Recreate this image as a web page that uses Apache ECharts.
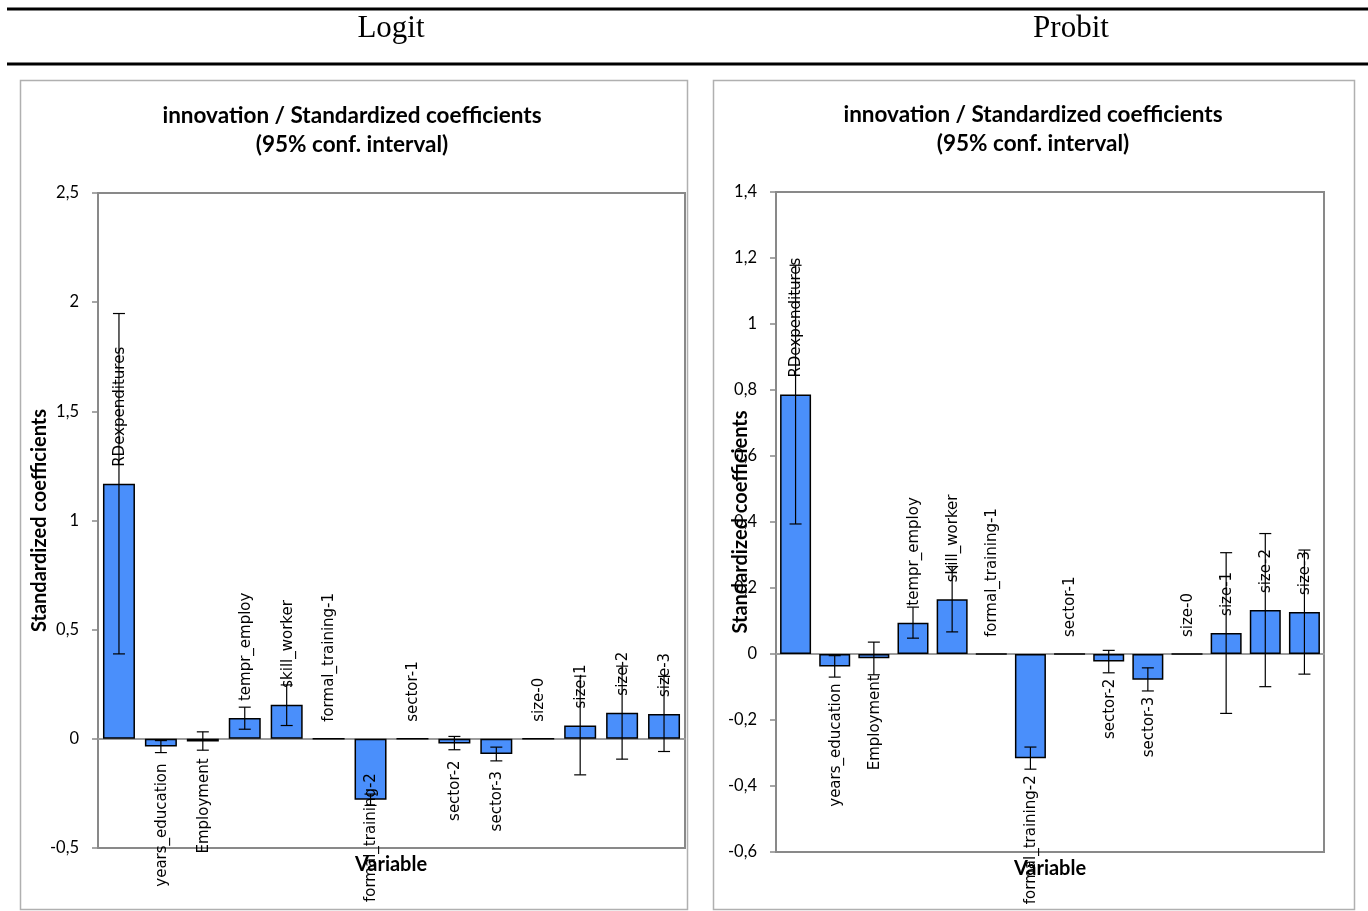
<!DOCTYPE html>
<html>
<head>
<meta charset="utf-8">
<script src="https://cdn.jsdelivr.net/npm/echarts@6/dist/echarts.min.js"></script>
<style>
html,body{margin:0;padding:0;background:#fff;}
#c{width:1368px;height:911px;}
</style>
</head>
<body>
<div id="c"></div>
<script>
// ---- data ----
const categories = ['RDexpenditures','years_education','Employment','tempr_employ','skill_worker','formal_training-1','formal_training-2','sector-1','sector-2','sector-3','size-0','size-1','size-2','size-3'];

const logitCoef = [1.168, -0.035, -0.012, 0.095, 0.156, 0, -0.279, 0, -0.021, -0.069, 0, 0.061, 0.120, 0.114];
const logitLow  = [0.389, -0.063, -0.052, 0.044, 0.061, null, -0.305, null, -0.050, -0.101, null, -0.165, -0.093, -0.058];
const logitHigh = [1.948, -0.008, 0.032, 0.145, 0.247, null, -0.253, null, 0.011, -0.038, null, 0.287, 0.333, 0.286];

const probitCoef = [0.786, -0.038, -0.013, 0.095, 0.166, 0, -0.316, 0, -0.023, -0.078, 0, 0.064, 0.133, 0.127];
const probitLow  = [0.394, -0.070, -0.063, 0.048, 0.067, null, -0.349, null, -0.057, -0.112, null, -0.180, -0.099, -0.061];
const probitHigh = [1.178, -0.005, 0.036, 0.142, 0.265, null, -0.282, null, 0.011, -0.042, null, 0.307, 0.365, 0.315];

const logitAxis = [-0.5, 2.5, 0.5];   // min, max, interval
const probitAxis = [-0.6, 1.4, 0.2];

const panelTitles = ['Logit', 'Probit'];
const chartTitle = 'innovation / Standardized coefficients\n(95% conf. interval)';
const yName = 'Standardized coefficients';
const xName = 'Variable';

// ---- helpers ----
const LABEL_FONT = '15px "DejaVu Sans"';
const mctx = document.createElement('canvas').getContext('2d');
function measure(t, font) { mctx.font = font; return mctx.measureText(t).width; }
function fmt(v) { return String(+v.toFixed(6)).replace('.', ','); }

function makeRender(labelFloor) {
  return function (params, api) {
    const i = api.value(0), v = api.value(1), lo = api.value(2), hi = api.value(3);
    const name = categories[i];
    const pv = api.coord([i, v]);
    const children = [];
    let ty, align;
    if (v >= 0) { ty = pv[1] - 17; align = 'left'; }
    else {
      ty = pv[1] + 17; align = 'right';
      const w = measure(name, LABEL_FONT);
      if (ty + w > labelFloor) ty = labelFloor - w;
    }
    children.push({
      type: 'text', x: pv[0] + 1, y: ty, rotation: Math.PI / 2,
      style: { text: name, font: LABEL_FONT, fill: '#000', align: align, verticalAlign: 'middle' }
    });
    if (isFinite(lo) && isFinite(hi)) {
      const pl = api.coord([i, lo]), ph = api.coord([i, hi]);
      const ls = { stroke: '#000', lineWidth: 1.2 };
      children.push({ type: 'line', shape: { x1: pl[0], y1: pl[1], x2: ph[0], y2: ph[1] }, style: ls });
      children.push({ type: 'line', shape: { x1: pl[0] - 6, y1: pl[1], x2: pl[0] + 6, y2: pl[1] }, style: ls });
      children.push({ type: 'line', shape: { x1: ph[0] - 6, y1: ph[1], x2: ph[0] + 6, y2: ph[1] }, style: ls });
    }
    return { type: 'group', children: children };
  };
}

function customData(coef, low, high) {
  return coef.map((v, i) => [i, v, low[i] == null ? NaN : low[i], high[i] == null ? NaN : high[i]]);
}

const BAR_COLOR = '#4a8ffb';
const AXIS_GRAY = '#898989';

function yAxisCfg(gridIndex, ax, gap) {
  return {
    type: 'value', gridIndex: gridIndex,
    min: ax[0], max: ax[1], interval: ax[2],
    splitLine: { show: false },
    axisLine: { show: false },
    axisTick: { show: true, length: 6, lineStyle: { color: AXIS_GRAY, width: 1.5 } },
    axisLabel: { margin: 19, formatter: fmt, fontFamily: 'Lato', fontSize: 16.5, color: '#000' },
    name: yName, nameLocation: 'middle', nameGap: gap, nameMoveOverlap: false,
    nameTextStyle: { fontFamily: 'Lato', fontWeight: 'bold', fontSize: 20, color: '#000' }
  };
}
function xAxisCfg(gridIndex) {
  return {
    type: 'category', gridIndex: gridIndex, data: categories,
    axisLabel: { show: false }, axisTick: { show: false },
    axisLine: { show: true, onZero: true, lineStyle: { color: '#9c9c9c', width: 2 } },
    splitLine: { show: false }
  };
}

const chart = echarts.init(document.getElementById('c'), null, { renderer: 'canvas' });
chart.setOption({
  animation: false,
  backgroundColor: '#fff',
  title: [
    { text: chartTitle, left: 352, top: 101, padding: 0, textAlign: 'center',
      textStyle: { fontFamily: 'Lato', fontWeight: 'bold', fontSize: 22.5, lineHeight: 29, color: '#000' } },
    { text: chartTitle, left: 1033, top: 100, padding: 0, textAlign: 'center',
      textStyle: { fontFamily: 'Lato', fontWeight: 'bold', fontSize: 22.5, lineHeight: 29, color: '#000' } }
  ],
  graphic: [
    { type: 'line', shape: { x1: 7, y1: 9, x2: 1368, y2: 9 }, style: { stroke: '#000', lineWidth: 3 } },
    { type: 'line', shape: { x1: 7, y1: 64, x2: 1368, y2: 64 }, style: { stroke: '#000', lineWidth: 3 } },
    { type: 'text', x: 391, y: 29, style: { text: panelTitles[0], font: '31px "Liberation Serif"', fill: '#000', align: 'center', verticalAlign: 'middle' } },
    { type: 'text', x: 1071, y: 29, style: { text: panelTitles[1], font: '31px "Liberation Serif"', fill: '#000', align: 'center', verticalAlign: 'middle' } },
    { type: 'rect', shape: { x: 20.5, y: 80.5, width: 667, height: 829 }, style: { fill: 'none', stroke: '#b0b0b0', lineWidth: 1.5 }, z: -1 },
    { type: 'rect', shape: { x: 713.5, y: 80.5, width: 641, height: 829 }, style: { fill: 'none', stroke: '#b0b0b0', lineWidth: 1.5 }, z: -1 },
    { type: 'text', x: 391, y: 865, style: { text: xName, font: 'bold 20px Lato', fill: '#000', align: 'center', verticalAlign: 'middle' } },
    { type: 'text', x: 1050, y: 869, style: { text: xName, font: 'bold 20px Lato', fill: '#000', align: 'center', verticalAlign: 'middle' } }
  ],
  grid: [
    { left: 98, top: 193, width: 587, height: 655, show: true, borderColor: AXIS_GRAY, borderWidth: 2, backgroundColor: 'transparent' },
    { left: 776, top: 192, width: 548, height: 660, show: true, borderColor: AXIS_GRAY, borderWidth: 2, backgroundColor: 'transparent' }
  ],
  xAxis: [xAxisCfg(0), xAxisCfg(1)],
  yAxis: [yAxisCfg(0, logitAxis, 48), yAxisCfg(1, probitAxis, 25)],
  series: [
    { type: 'bar', xAxisIndex: 0, yAxisIndex: 0, data: logitCoef, barWidth: 32, z: 2,
      itemStyle: { color: BAR_COLOR, borderColor: '#000', borderWidth: 1.5 } },
    { type: 'custom', xAxisIndex: 0, yAxisIndex: 0, data: customData(logitCoef, logitLow, logitHigh),
      dimensions: ['x', 'y', 'lo', 'hi'], encode: { x: 0, y: 1 }, z: 3, clip: false,
      renderItem: makeRender(902) },
    { type: 'bar', xAxisIndex: 1, yAxisIndex: 1, data: probitCoef, barWidth: 31, z: 2,
      itemStyle: { color: BAR_COLOR, borderColor: '#000', borderWidth: 1.5 } },
    { type: 'custom', xAxisIndex: 1, yAxisIndex: 1, data: customData(probitCoef, probitLow, probitHigh),
      dimensions: ['x', 'y', 'lo', 'hi'], encode: { x: 0, y: 1 }, z: 3, clip: false,
      renderItem: makeRender(906) }
  ]
});
</script>
</body>
</html>
